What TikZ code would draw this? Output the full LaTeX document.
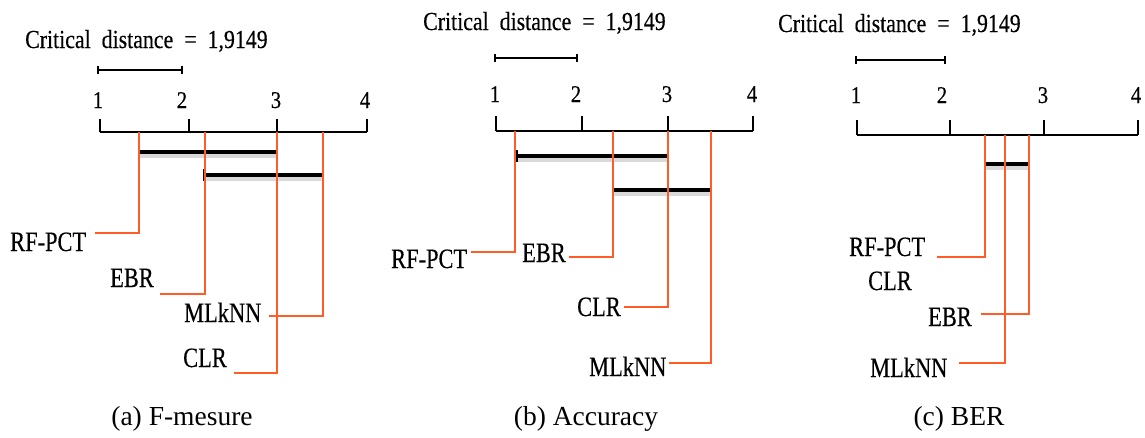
\documentclass[tikz,border=0pt]{standalone}
\usepackage{fontspec}
\setmainfont{Liberation Serif}
\newfontfamily\condfont[FakeStretch=0.80,FakeBold=0.3]{Liberation Serif}
\newfontfamily\numfont[FakeStretch=0.86,FakeBold=0.3]{Liberation Serif}
\newfontfamily\titlefont[FakeStretch=0.84,FakeBold=0.3]{Liberation Serif}
\newcommand\cdtitle{\spaceskip=11pt\relax Critical distance = 1,9149}
\definecolor{cdred}{RGB}{255,92,40}
\tikzset{
  ttl/.style={font=\titlefont\fontsize{26}{28}\selectfont, inner sep=0pt, anchor=base west},
  num/.style={font=\numfont\fontsize{24}{26}\selectfont, inner sep=0pt, anchor=base},
  lbl/.style={font=\condfont\fontsize{28}{30}\selectfont, inner sep=0pt, anchor=base west},
  captext/.style={font=\fontsize{27.5}{30}\selectfont, inner sep=0pt, anchor=base},
  axisline/.style={line width=1.6pt, black},
  cdline/.style={line width=1.3pt, black},
  redline/.style={line width=1.6pt, cdred},
  grpbar/.style={line width=4pt, black},
  grpshadow/.style={line width=6pt, black!25, opacity=0.6},
}
\begin{document}
\begin{tikzpicture}[x=1pt,y=-1pt]
\useasboundingbox (0,0) rectangle (1145,437);
% ================= (a) =================
\node[ttl] (a-title) at (25,48) {\cdtitle};
\coordinate (a-cd1) at (98,70); \coordinate (a-cd2) at (182,70);
\draw[cdline] (a-cd1) -- (a-cd2);
\draw[cdline] ([yshift=-4pt]a-cd1) -- ([yshift=4pt]a-cd1);
\draw[cdline] ([yshift=-4pt]a-cd2) -- ([yshift=4pt]a-cd2);
\node[num] (a-n1) at (98,108) {1};
\node[num] (a-n2) at (182,108) {2};
\node[num] (a-n3) at (276,108) {3};
\node[num] (a-n4) at (365,108) {4};
\coordinate (a-t1) at (100,132); \coordinate (a-t2) at (189,132);
\coordinate (a-t3) at (277,132); \coordinate (a-t4) at (367,132);
\draw[axisline] (a-t1) -- (a-t4);
\foreach \t in {a-t1,a-t2,a-t3,a-t4} \draw[axisline] (\t) -- ++(0,-13);
% groups
\draw[grpshadow] (139,155) -- (277,155);
\draw[grpbar] (139,152) -- (277,152);
\draw[axisline] (139,146) -- (139,158); \draw[axisline] (277,146) -- (277,158);
\draw[grpshadow] (204,178) -- (323,178);
\draw[grpbar] (204,175) -- (323,175);
\draw[axisline] (204,169) -- (204,181); \draw[axisline] (323,169) -- (323,181);
% methods
\coordinate (a-p1) at (139,132); \coordinate (a-p2) at (205,132);
\coordinate (a-p3) at (277,132); \coordinate (a-p4) at (323,132);
\node[lbl] (a-rf) at (10,251) {RF-PCT};
\node[lbl] (a-ebr) at (110,287) {EBR};
\node[lbl] (a-ml) at (184,322) {MLkNN};
\node[lbl] (a-clr) at (183,367) {CLR};
\coordinate (a-rfe) at (95,233); \coordinate (a-ebre) at (160,294);
\coordinate (a-mle) at (269,316); \coordinate (a-clre) at (234,373);
\draw[redline] (a-rfe) -| (a-p1);
\draw[redline] (a-ebre) -| (a-p2);
\draw[redline] (a-clre) -| (a-p3);
\draw[redline] (a-mle) -| (a-p4);
\node[captext] (a-cap) at (182,425) {(a) F-mesure};
% ================= (b) =================
\node[ttl] (b-title) at (423,30) {\cdtitle};
\coordinate (b-cd1) at (495,58); \coordinate (b-cd2) at (577,58);
\draw[cdline] (b-cd1) -- (b-cd2);
\draw[cdline] ([yshift=-4pt]b-cd1) -- ([yshift=4pt]b-cd1);
\draw[cdline] ([yshift=-4pt]b-cd2) -- ([yshift=4pt]b-cd2);
\node[num] (b-n1) at (495,102) {1};
\node[num] (b-n2) at (576,102) {2};
\node[num] (b-n3) at (667,102) {3};
\node[num] (b-n4) at (752,102) {4};
\coordinate (b-t1) at (496,131); \coordinate (b-t2) at (582,131);
\coordinate (b-t3) at (668,131); \coordinate (b-t4) at (753,131);
\draw[axisline] (b-t1) -- (b-t4);
\foreach \t in {b-t1,b-t2,b-t3,b-t4} \draw[axisline] (\t) -- ++(0,-15);
\draw[grpshadow] (517,159) -- (668,159);
\draw[grpbar] (517,156) -- (668,156);
\draw[axisline] (517,150) -- (517,162); \draw[axisline] (668,150) -- (668,162);
\draw[grpshadow] (613,193) -- (711,193);
\draw[grpbar] (613,190) -- (711,190);
\draw[axisline] (613,184) -- (613,196); \draw[axisline] (711,184) -- (711,196);
\coordinate (b-p1) at (515,131); \coordinate (b-p2) at (613,131);
\coordinate (b-p3) at (668,131); \coordinate (b-p4) at (711,131);
\node[lbl] (b-rf) at (391,268) {RF-PCT};
\node[lbl] (b-ebr) at (522,262) {EBR};
\node[lbl] (b-clr) at (577,316) {CLR};
\node[lbl] (b-ml) at (589,376) {MLkNN};
\coordinate (b-rfe) at (471,252); \coordinate (b-ebre) at (569,257);
\coordinate (b-clre) at (624,307); \coordinate (b-mle) at (669,363);
\draw[redline] (b-rfe) -| (b-p1);
\draw[redline] (b-ebre) -| (b-p2);
\draw[redline] (b-clre) -| (b-p3);
\draw[redline] (b-mle) -| (b-p4);
\node[captext] (b-cap) at (586,425) {(b) Accuracy};
% ================= (c) =================
\node[ttl] (c-title) at (778,32) {\cdtitle};
\coordinate (c-cd1) at (856,60); \coordinate (c-cd2) at (945,60);
\draw[cdline] (c-cd1) -- (c-cd2);
\draw[cdline] ([yshift=-4pt]c-cd1) -- ([yshift=4pt]c-cd1);
\draw[cdline] ([yshift=-4pt]c-cd2) -- ([yshift=4pt]c-cd2);
\node[num] (c-n1) at (856,103) {1};
\node[num] (c-n2) at (942,103) {2};
\node[num] (c-n3) at (1043,103) {3};
\node[num] (c-n4) at (1136,103) {4};
\coordinate (c-t1) at (857,135); \coordinate (c-t2) at (950,135);
\coordinate (c-t3) at (1044,135); \coordinate (c-t4) at (1138,135);
\draw[axisline] (c-t1) -- (c-t4);
\foreach \t in {c-t1,c-t2,c-t3,c-t4} \draw[axisline] (\t) -- ++(0,-15);
\draw[grpshadow] (985,167) -- (1029,167);
\draw[grpbar] (985,164) -- (1029,164);
\draw[axisline] (985,158) -- (985,170); \draw[axisline] (1029,158) -- (1029,170);
\coordinate (c-p1) at (985,135); \coordinate (c-p2) at (1005,135);
\coordinate (c-p3) at (1029,135);
\node[lbl] (c-rf) at (849,256) {RF-PCT};
\node[lbl] (c-clr) at (868,290) {CLR};
\node[lbl] (c-ebr) at (928,326) {EBR};
\node[lbl] (c-ml) at (870,377) {MLkNN};
\coordinate (c-rfe) at (937,257); \coordinate (c-ebre) at (981,314);
\coordinate (c-mle) at (959,363);
\draw[redline] (c-rfe) -| (c-p1);
\draw[redline] (c-mle) -| (c-p2);
\draw[redline] (c-ebre) -| (c-p3);
\node[captext] (c-cap) at (959,425) {(c) BER};
\end{tikzpicture}
\end{document}
